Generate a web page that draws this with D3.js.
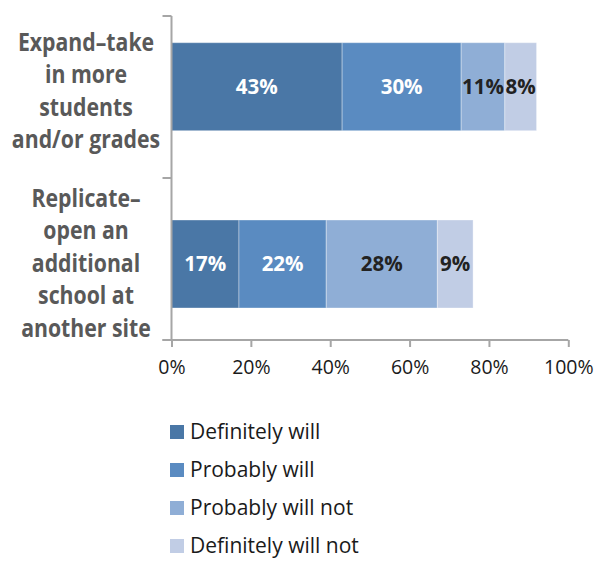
<!DOCTYPE html>
<html>
<head>
<meta charset="utf-8">
<script src="https://cdn.jsdelivr.net/npm/d3@7"></script>
<style>
  html, body { margin: 0; padding: 0; background: #fff; }
  svg { display: block; }
  .cat { font-family: "Open Sans", sans-serif; font-weight: bold; font-size: 25px; fill: #595959; }
  .tick-label { font-family: "Open Sans", sans-serif; font-size: 19.5px; fill: #1a1a1a; }
  .val { font-family: "Open Sans", sans-serif; font-weight: bold; font-size: 20.5px; }
  .leg { font-family: "Open Sans", sans-serif; font-size: 21px; fill: #1a1a1a; }
</style>
</head>
<body>
<svg id="chart" width="597" height="563"></svg>
<script>
// Survey responses: plans for growth, shares by answer
const categories = ["Expand–take in more students and/or grades", "Replicate–open an additional school at another site"];
const categoryLines = [
  ["Expand–take", "in more", "students", "and/or grades"],
  ["Replicate–", "open an", "additional", "school at", "another site"]
];
const seriesNames = ["Definitely will", "Probably will", "Probably will not", "Definitely will not"];
const seriesColors = ["#4a77a6", "#5a8bc1", "#8faed6", "#c1cde5"];
const labelColors = ["#ffffff", "#ffffff", "#222222", "#222222"];
const definitelyWill = [43, 17];
const probablyWill = [30, 22];
const probablyWillNot = [11, 28];
const definitelyWillNot = [8, 9];
const tickValues = [0, 20, 40, 60, 80, 100];

const seriesValues = [definitelyWill, probablyWill, probablyWillNot, definitelyWillNot];

const svg = d3.select("#chart");
const axisColor = "#a6a6a6";

const x = d3.scaleLinear().domain([0, 100]).range([171.5, 568.3]);
// Category bands along the vertical axis
const yBand = d3.scaleBand().domain(categories).range([16, 340]);
// Bar centres within the bands
const yBar = d3.scalePoint().domain(categories).range([86.7, 264]);
const barH = 88;

// Stack the series
const rows = categories.map((c, i) => {
  const o = { cat: c };
  seriesNames.forEach((s, j) => { o[s] = seriesValues[j][i]; });
  return o;
});
const stacked = d3.stack().keys(seriesNames)(rows);

const gBars = svg.append("g");
stacked.forEach((layer, j) => {
  const g = gBars.append("g");
  g.selectAll("rect").data(layer).join("rect")
    .attr("x", d => x(d[0]))
    .attr("y", d => yBar(d.data.cat) - barH / 2)
    .attr("width", d => x(d[1]) - x(d[0]))
    .attr("height", barH)
    .attr("fill", seriesColors[j])
    .attr("stroke", "#ffffff")
    .attr("stroke-opacity", 0.35)
    .attr("stroke-width", 1);
  g.selectAll("text").data(layer).join("text")
    .attr("class", "val")
    .attr("x", d => (x(d[0]) + x(d[1])) / 2)
    .attr("y", d => yBar(d.data.cat))
    .attr("dy", "0.35em")
    .attr("text-anchor", "middle")
    .attr("fill", labelColors[j])
    .text(d => (d[1] - d[0]) + "%");
});

// Horizontal axis
const xAxis = d3.axisBottom(x)
  .tickValues(tickValues)
  .tickFormat(d => d + "%")
  .tickSize(7)
  .tickSizeOuter(0)
  .tickPadding(13);
const gx = svg.append("g").attr("transform", "translate(0,340)").call(xAxis);
gx.select(".domain").attr("stroke", axisColor).attr("stroke-width", 2)
  .attr("d", `M${x(0) - 9},0H${x(100)}`);
gx.selectAll(".tick line").attr("stroke", axisColor).attr("stroke-width", 2);
gx.selectAll(".tick text").attr("class", "tick-label").attr("fill", null).attr("font-size", null).attr("font-family", null);

// Vertical axis with ticks at band boundaries
const bounds = [yBand(categories[0]), yBand(categories[1]), yBand(categories[1]) + yBand.bandwidth()];
const gy = svg.append("g");
gy.append("line")
  .attr("x1", x(0)).attr("x2", x(0))
  .attr("y1", bounds[0]).attr("y2", bounds[2])
  .attr("stroke", axisColor).attr("stroke-width", 2);
gy.selectAll("line.yt").data(bounds).join("line")
  .attr("class", "yt")
  .attr("x1", x(0) - 9).attr("x2", x(0))
  .attr("y1", d => d).attr("y2", d => d)
  .attr("stroke", axisColor).attr("stroke-width", 2);

// Category labels, set in a condensed bold face
const lineH = 32.4;
categories.forEach((c, i) => {
  const lines = categoryLines[i];
  const t = svg.append("text")
    .attr("class", "cat")
    .attr("text-anchor", "middle")
    .attr("transform", "translate(86,0) scale(0.85,1)");
  const cy = yBar(c) + (i === 0 ? 4 : -1);
  lines.forEach((ln, k) => {
    t.append("tspan")
      .attr("x", 0)
      .attr("y", cy + (k - (lines.length - 1) / 2) * lineH)
      .attr("dy", "0.35em")
      .text(ln);
  });
});

// Legend
const legY = d3.scalePoint().domain(seriesNames).range([432, 546]);
const gl = svg.append("g");
seriesNames.forEach((s, j) => {
  gl.append("rect")
    .attr("x", 170).attr("y", legY(s) - 7)
    .attr("width", 14).attr("height", 14)
    .attr("fill", seriesColors[j]);
  gl.append("text")
    .attr("class", "leg")
    .attr("x", 190).attr("y", legY(s))
    .attr("dy", "0.35em")
    .text(s);
});
</script>
</body>
</html>
